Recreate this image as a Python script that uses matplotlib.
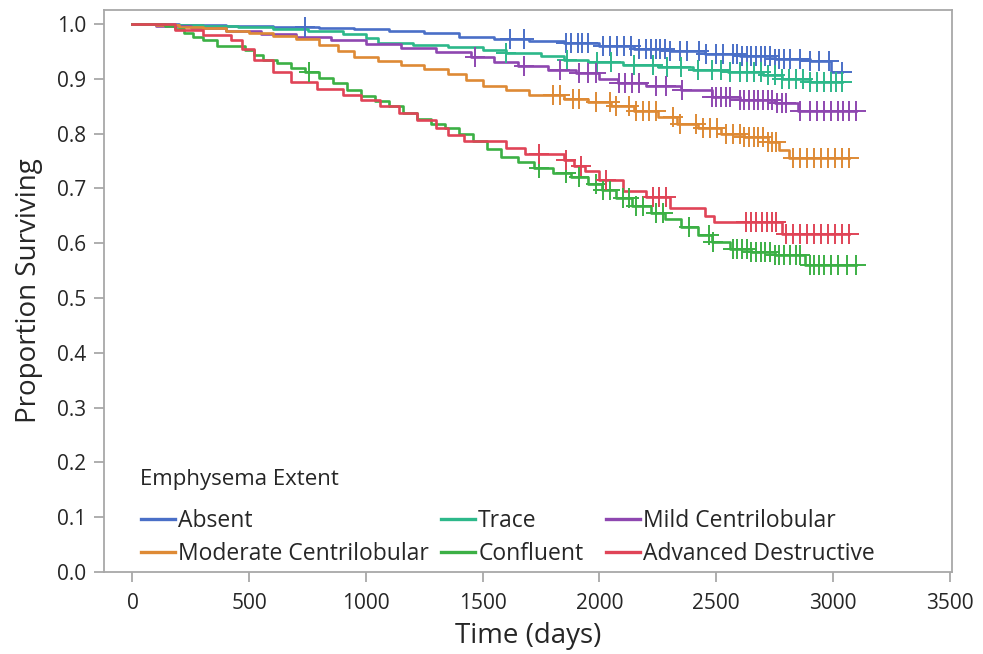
import matplotlib
matplotlib.use("Agg")
import matplotlib.pyplot as plt
from matplotlib.legend import Legend
from matplotlib.lines import Line2D
import numpy as np

# ── Kaplan-Meier step data ────────────────────────────────────────────────────
absent_t = [0, 200, 400, 600, 800, 950, 1100, 1250, 1400, 1550, 1700, 1850,
            2000, 2150, 2300, 2450, 2600, 2750, 2900, 2990]
absent_s = [1.0, 0.998, 0.997, 0.995, 0.993, 0.990, 0.987, 0.983, 0.977, 0.972,
            0.969, 0.965, 0.960, 0.955, 0.950, 0.946, 0.942, 0.937, 0.932, 0.913]
absent_cens = [737, 1615, 1675, 1858, 1880, 1906, 1927, 1949, 2013, 2043, 2077,
               2107, 2137, 2171, 2200, 2220, 2240, 2260, 2280, 2300, 2343, 2373,
               2428, 2458, 2501, 2527, 2570, 2590, 2610, 2630, 2650, 2670, 2690,
               2710, 2730, 2750, 2770, 2790, 2814, 2857, 2900, 2942, 2985, 3040]

trace_t = [0, 150, 300, 450, 600, 750, 900, 1000, 1050, 1200, 1350, 1500, 1600,
           1750, 1850, 1950, 2100, 2250, 2400, 2550, 2700, 2780, 2900]
trace_s = [1.0, 0.998, 0.996, 0.994, 0.991, 0.988, 0.982, 0.975, 0.966, 0.962,
           0.958, 0.952, 0.947, 0.941, 0.934, 0.930, 0.926, 0.921, 0.916, 0.912,
           0.907, 0.900, 0.894]
trace_cens = [1600, 1860, 1990, 2050, 2150, 2230, 2290, 2350, 2420, 2480, 2520,
              2560, 2600, 2630, 2660, 2690, 2720, 2750, 2780, 2810, 2840, 2870,
              2900, 2930, 2960, 2990, 3015, 3040]

mild_t = [0, 100, 250, 400, 550, 700, 850, 1000, 1150, 1300, 1450, 1550, 1650,
          1780, 1900, 2000, 2080, 2200, 2350, 2480, 2600, 2750, 2850]
mild_s = [1.0, 0.997, 0.993, 0.987, 0.982, 0.977, 0.971, 0.964, 0.956, 0.948,
          0.940, 0.930, 0.924, 0.916, 0.910, 0.900, 0.892, 0.887, 0.879, 0.866,
          0.862, 0.856, 0.842]
mild_cens = [1465, 1675, 1829, 1913, 1950, 1987, 2085, 2110, 2140, 2171, 2244,
             2287, 2355, 2484, 2500, 2520, 2540, 2560, 2600, 2620, 2640, 2660,
             2680, 2700, 2720, 2740, 2760, 2780, 2800, 2860, 2900, 2930, 2960,
             2990, 3020, 3045, 3070, 3100]

moderate_t = [0, 100, 200, 300, 400, 500, 600, 700, 800, 880, 950, 1050, 1150,
              1250, 1350, 1430, 1500, 1600, 1700, 1850, 1950, 2050, 2150, 2250,
              2330, 2420, 2520, 2620, 2720, 2770, 2810]
moderate_s = [1.0, 0.998, 0.995, 0.992, 0.988, 0.983, 0.978, 0.972, 0.962,
              0.950, 0.940, 0.933, 0.925, 0.917, 0.908, 0.898, 0.886, 0.879,
              0.871, 0.864, 0.858, 0.851, 0.842, 0.830, 0.818, 0.810, 0.800,
              0.793, 0.785, 0.770, 0.755]
moderate_cens = [1800, 1829, 1885, 1913, 1987, 2043, 2071, 2128, 2156, 2185,
                 2214, 2242, 2313, 2343, 2414, 2445, 2475, 2505, 2540, 2570,
                 2600, 2620, 2640, 2660, 2680, 2700, 2720, 2740, 2757, 2830,
                 2860, 2890, 2920, 2950, 2980, 3010, 3040, 3070]

confluent_t = [0, 140, 180, 220, 260, 300, 360, 480, 520, 560, 620, 680, 740,
               800, 860, 920, 980, 1040, 1100, 1160, 1220, 1280, 1340, 1400,
               1460, 1520, 1580, 1650, 1720, 1800, 1880, 1950, 2010, 2070, 2140,
               2220, 2280, 2350, 2420, 2480, 2560, 2650, 2750, 2880]
confluent_s = [1.0, 0.996, 0.990, 0.984, 0.977, 0.970, 0.960, 0.952, 0.944,
               0.935, 0.928, 0.920, 0.912, 0.902, 0.892, 0.880, 0.868, 0.859,
               0.850, 0.838, 0.826, 0.818, 0.810, 0.800, 0.787, 0.772, 0.758,
               0.748, 0.738, 0.728, 0.720, 0.708, 0.697, 0.683, 0.668, 0.655,
               0.645, 0.630, 0.615, 0.603, 0.590, 0.584, 0.578, 0.561]
confluent_cens = [758, 1743, 1858, 1913, 1985, 2014, 2043, 2100, 2128, 2156,
                  2185, 2242, 2270, 2385, 2470, 2485, 2570, 2590, 2610, 2630,
                  2650, 2670, 2690, 2710, 2730, 2750, 2770, 2790, 2815, 2840,
                  2857, 2900, 2920, 2940, 2960, 2990, 3020, 3060, 3100]

advanced_t = [0, 180, 300, 420, 470, 520, 600, 680, 790, 900, 980, 1060, 1140,
              1220, 1300, 1350, 1420, 1600, 1680, 1850, 1890, 1940, 2000, 2100,
              2200, 2300, 2450, 2490, 2780]
advanced_s = [1.0, 0.989, 0.980, 0.971, 0.955, 0.935, 0.913, 0.895, 0.882,
              0.870, 0.862, 0.850, 0.838, 0.825, 0.810, 0.798, 0.786, 0.774,
              0.762, 0.752, 0.741, 0.731, 0.716, 0.695, 0.685, 0.665, 0.649,
              0.639, 0.617]
advanced_cens = [1743, 1858, 1921, 2028, 2228, 2255, 2285, 2628, 2650, 2672,
                 2694, 2716, 2738, 2757, 2800, 2830, 2860, 2890, 2920, 2950,
                 2980, 3010, 3040, 3070]

GROUPS = [
    ("Absent", absent_t, absent_s, absent_cens, "#4a6fc7"),
    ("Trace", trace_t, trace_s, trace_cens, "#2db88a"),
    ("Mild Centrilobular", mild_t, mild_s, mild_cens, "#8e47b0"),
    ("Moderate Centrilobular", moderate_t, moderate_s, moderate_cens, "#de8a35"),
    ("Confluent", confluent_t, confluent_s, confluent_cens, "#3cb045"),
    ("Advanced Destructive", advanced_t, advanced_s, advanced_cens, "#e04457"),
]

TEXT = "#262626"
AXIS = "#a8a8a8"

plt.rcParams["font.family"] = ["Open Sans", "DejaVu Sans"]

fig = plt.figure(figsize=(9.83, 6.54), dpi=100)
ax = fig.add_axes([0.1058, 0.1254, 0.8627, 0.8593])

handles = {}
for name, t, s, cens, color in GROUPS:
    t = np.asarray(t, float)
    s = np.asarray(s, float)
    cens = np.asarray(cens, float)
    end = cens.max()
    ax.step(np.append(t, end), np.append(s, s[-1]), where="post",
            color=color, lw=1.9, zorder=3)
    # survival value at each censoring time
    idx = np.searchsorted(t, cens, side="right") - 1
    ax.plot(cens, s[idx], ls="none", marker="+", ms=14, mew=1.4,
            color=color, zorder=4)
    handles[name] = Line2D([], [], color=color, lw=2.4)

ax.set_xlim(-122, 3510)
ax.set_ylim(0, 1.0255)
ax.set_xticks(np.arange(0, 3501, 500))
ax.set_yticks(np.arange(0, 1.01, 0.1))
ax.set_yticklabels([f"{v:.1f}" for v in np.arange(0, 1.01, 0.1)])

for sp in ax.spines.values():
    sp.set_color(AXIS)
    sp.set_linewidth(1.3)
ax.tick_params(direction="out", length=7, width=1.3, color=AXIS,
               labelsize=15, labelcolor=TEXT)
ax.tick_params(axis="x", pad=8)
ax.tick_params(axis="y", pad=6)

ax.set_xlabel("Time (days)", fontsize=20, color=TEXT, labelpad=6)
ax.set_ylabel("Proportion Surviving", fontsize=20, color=TEXT, labelpad=10)

ax.text(0.042, 0.165, "Emphysema Extent", transform=ax.transAxes,
        fontsize=16, color=TEXT, ha="left", va="center")

# legend laid out as three separate columns (rows: top, bottom)
legend_cols = [
    (0.030, ["Absent", "Moderate Centrilobular"]),
    (0.384, ["Trace", "Confluent"]),
    (0.578, ["Mild Centrilobular", "Advanced Destructive"]),
]
for x0, names in legend_cols:
    leg = Legend(ax, [handles[n] for n in names], names, frameon=False,
                 loc="lower left", bbox_to_anchor=(x0, -0.009),
                 fontsize=16.5, handlelength=1.5, handletextpad=0.12,
                 labelspacing=0.38, borderpad=0, labelcolor=TEXT)
    ax.add_artist(leg)

fig.savefig("out.png", dpi=100)
